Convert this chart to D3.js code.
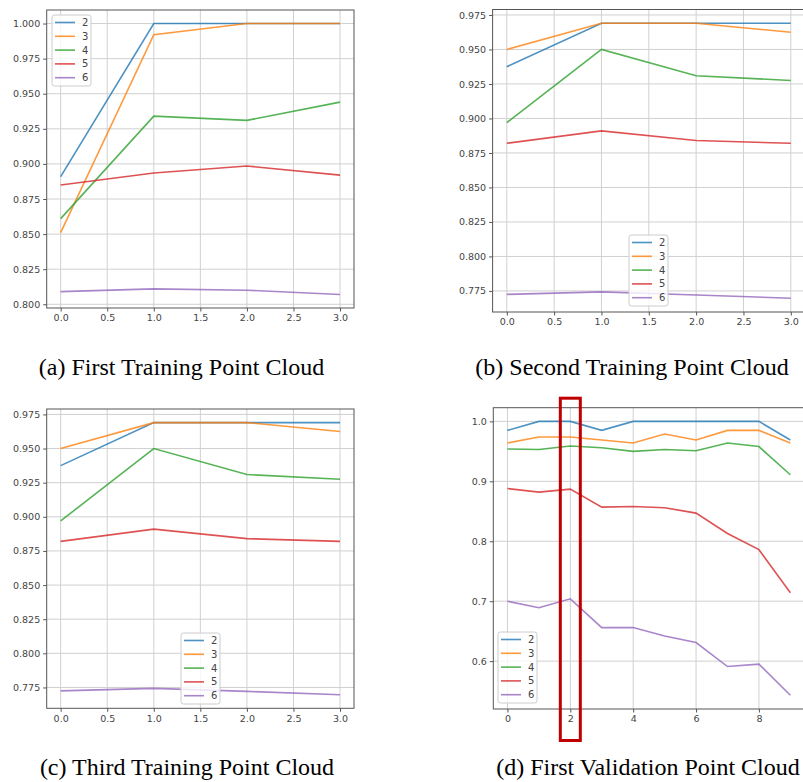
<!DOCTYPE html>
<html><head><meta charset="utf-8">
<script src="https://cdn.jsdelivr.net/npm/d3@7"></script>
<style>html,body{margin:0;padding:0;background:#fff;}svg{display:block;}</style>
</head><body>
<svg id="chart" width="803" height="782"></svg>
<script>
// ---------- data ----------
const seriesNames = ["2", "3", "4", "5", "6"];
const trainSteps = [0, 1, 2, 3];
const valSteps = [0, 1, 2, 3, 4, 5, 6, 7, 8, 9];

// (a) First Training Point Cloud
const aS2 = [0.891, 1.000, 1.000, 1.000];
const aS3 = [0.851, 0.992, 1.000, 1.000];
const aS4 = [0.861, 0.934, 0.931, 0.944];
const aS5 = [0.885, 0.8935, 0.8985, 0.892];
const aS6 = [0.809, 0.811, 0.810, 0.807];

// (b) Second Training Point Cloud
const bS2 = [0.9375, 0.969, 0.969, 0.969];
const bS3 = [0.950, 0.969, 0.969, 0.9625];
const bS4 = [0.897, 0.950, 0.931, 0.9275];
const bS5 = [0.882, 0.891, 0.884, 0.882];
const bS6 = [0.7725, 0.7743, 0.7721, 0.7697];

// (c) Third Training Point Cloud
const cS2 = [0.9375, 0.969, 0.969, 0.969];
const cS3 = [0.950, 0.969, 0.969, 0.9625];
const cS4 = [0.897, 0.950, 0.931, 0.9275];
const cS5 = [0.882, 0.891, 0.884, 0.882];
const cS6 = [0.7725, 0.7743, 0.7721, 0.7697];

// (d) First Validation Point Cloud
const dS2 = [0.985, 1.000, 1.000, 0.985, 1.000, 1.000, 1.000, 1.000, 1.000, 0.969];
const dS3 = [0.964, 0.974, 0.974, 0.969, 0.964, 0.979, 0.969, 0.985, 0.985, 0.964];
const dS4 = [0.954, 0.953, 0.959, 0.956, 0.950, 0.953, 0.951, 0.964, 0.958, 0.911];
const dS5 = [0.888, 0.882, 0.887, 0.857, 0.858, 0.856, 0.847, 0.813, 0.786, 0.714];
const dS6 = [0.700, 0.689, 0.704, 0.656, 0.656, 0.642, 0.631, 0.591, 0.595, 0.543];

const trainXTicks = [0, 0.5, 1, 1.5, 2, 2.5, 3];
const valXTicks = [0, 2, 4, 6, 8];
const aYTicks = [0.800, 0.825, 0.850, 0.875, 0.900, 0.925, 0.950, 0.975, 1.000];
const bYTicks = [0.775, 0.800, 0.825, 0.850, 0.875, 0.900, 0.925, 0.950, 0.975];
const dYTicks = [0.6, 0.7, 0.8, 0.9, 1.0];

const captions = ["(a) First Training Point Cloud", "(b) Second Training Point Cloud",
                  "(c) Third Training Point Cloud", "(d) First Validation Point Cloud"];
const highlightStep = 2;

// ---------- drawing ----------
const colors = ["#1f77b4", "#ff7f0e", "#2ca02c", "#d62728", "#9467bd"];
const svg = d3.select("#chart");

function panel(cfg) {
  const {box, xs, series, xTicks, yTicks, xFmt, yFmt, legend} = cfg;
  const g = svg.append("g");
  const xExt = d3.extent(xs), xPad = (xExt[1] - xExt[0]) * 0.05;
  const all = series.flat();
  const yExt = d3.extent(all), yPad = (yExt[1] - yExt[0]) * 0.05;
  const x = d3.scaleLinear().domain([xExt[0] - xPad, xExt[1] + xPad]).range([box.l, box.r]);
  const y = d3.scaleLinear().domain([yExt[0] - yPad, yExt[1] + yPad]).range([box.b, box.t]);

  // grid
  g.append("g").selectAll("line").data(xTicks).join("line")
    .attr("x1", d => x(d)).attr("x2", d => x(d)).attr("y1", box.t).attr("y2", box.b)
    .attr("stroke", "#d0d0d0").attr("stroke-width", 1);
  g.append("g").selectAll("line").data(yTicks).join("line")
    .attr("y1", d => y(d)).attr("y2", d => y(d)).attr("x1", box.l).attr("x2", box.r)
    .attr("stroke", "#d0d0d0").attr("stroke-width", 1);

  // axes
  const xa = g.append("g").attr("transform", `translate(0,${box.b})`)
    .call(d3.axisBottom(x).tickValues(xTicks).tickFormat(d3.format(xFmt)).tickSize(3.5).tickPadding(3));
  const ya = g.append("g").attr("transform", `translate(${box.l},0)`)
    .call(d3.axisLeft(y).tickValues(yTicks).tickFormat(d3.format(yFmt)).tickSize(3.5).tickPadding(3));
  [xa, ya].forEach(a => {
    a.select(".domain").remove();
    a.selectAll(".tick line").attr("stroke", "#555");
    a.selectAll("text").attr("fill", "#444").style("font-family", "DejaVu Sans").style("font-size", "9.5px");
  });

  // lines
  const line = d3.line().x((d, i) => x(xs[i])).y(d => y(d));
  series.forEach((s, i) => {
    g.append("path").datum(s).attr("d", line).attr("fill", "none")
      .attr("stroke", colors[i]).attr("stroke-opacity", 0.8).attr("stroke-width", 1.6);
  });

  // frame
  g.append("rect").attr("x", box.l).attr("y", box.t).attr("width", box.r - box.l).attr("height", box.b - box.t)
    .attr("fill", "none").attr("stroke", "#555").attr("stroke-width", 1);

  // legend
  const lg = g.append("g").attr("transform", `translate(${legend[0]},${legend[1]})`);
  lg.append("rect").attr("width", 39).attr("height", 71).attr("rx", 2.5)
    .attr("fill", "#fff").attr("fill-opacity", 0.8).attr("stroke", "#ccc").attr("stroke-width", 1);
  seriesNames.forEach((n, i) => {
    const yy = 7.5 + i * 13.8;
    lg.append("line").attr("x1", 3).attr("x2", 23).attr("y1", yy).attr("y2", yy)
      .attr("stroke", colors[i]).attr("stroke-opacity", 0.8).attr("stroke-width", 1.6);
    lg.append("text").attr("x", 30).attr("y", yy).attr("dy", "0.35em").text(n)
      .attr("fill", "#444").style("font-family", "DejaVu Sans").style("font-size", "10px");
  });
  return {x, y};
}

panel({box: {l: 46.7, r: 354, t: 10, b: 308}, xs: trainSteps, series: [aS2, aS3, aS4, aS5, aS6],
  xTicks: trainXTicks, yTicks: aYTicks, xFmt: ".1f", yFmt: ".3f", legend: [52, 15]});
panel({box: {l: 492.6, r: 805, t: 9.5, b: 312}, xs: trainSteps, series: [bS2, bS3, bS4, bS5, bS6],
  xTicks: trainXTicks, yTicks: bYTicks, xFmt: ".1f", yFmt: ".3f", legend: [629, 235]});
panel({box: {l: 46.7, r: 354, t: 409, b: 708.3}, xs: trainSteps, series: [cS2, cS3, cS4, cS5, cS6],
  xTicks: trainXTicks, yTicks: bYTicks, xFmt: ".1f", yFmt: ".3f", legend: [181, 633]});
const pd = panel({box: {l: 493.3, r: 804.5, t: 407.7, b: 709}, xs: valSteps, series: [dS2, dS3, dS4, dS5, dS6],
  xTicks: valXTicks, yTicks: dYTicks, xFmt: "d", yFmt: ".1f", legend: [498, 632]});

// highlight box around step 2 in (d)
svg.append("rect").attr("x", pd.x(highlightStep) - 10).attr("y", 398.2)
  .attr("width", 20).attr("height", 342.3)
  .attr("fill", "none").attr("stroke", "#c00000").attr("stroke-width", 3);

// captions
const capPos = [[181.5, 375], [632, 375], [187, 775], [648, 775]];
captions.forEach((c, i) => {
  svg.append("text").attr("x", capPos[i][0]).attr("y", capPos[i][1]).attr("text-anchor", "middle")
    .style("font-family", "Liberation Serif").style("font-size", "24px").attr("fill", "#000").text(c);
});
</script>
</body></html>
